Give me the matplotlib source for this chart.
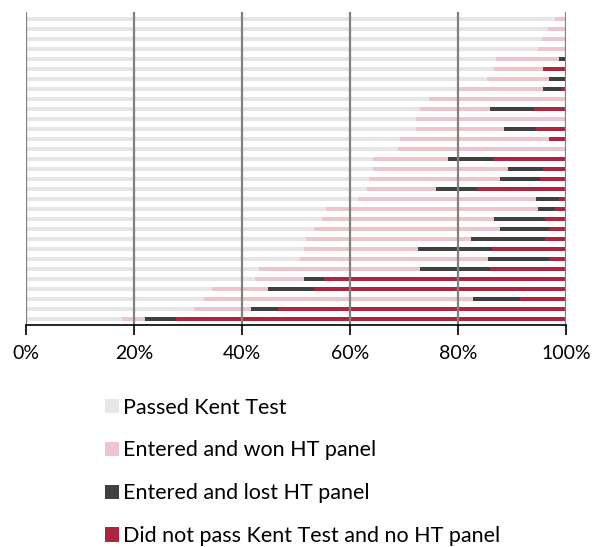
import matplotlib
matplotlib.use("Agg")
import matplotlib.pyplot as plt
from matplotlib.patches import Patch
import numpy as np

plt.rcParams['font.family'] = ['Lato', 'DejaVu Sans']

# cumulative boundaries (%) for each bar, top to bottom
passed = [98.0, 96.6, 95.5, 94.8, 87.1, 86.7, 85.3, 80.2, 74.7, 72.9, 72.2,
          72.2, 69.3, 68.9, 64.2, 64.2, 63.5, 63.2, 61.4, 55.5, 54.8,
          53.3, 51.9, 51.5, 50.8, 43.1, 42.4, 34.5, 32.9, 31.1, 17.8]
won_end = [100, 100, 100, 100, 98.7, 95.8, 96.9, 95.8, 100, 86.0, 100,
           88.5, 96.9, 100, 78.1, 89.3, 87.8, 75.9, 94.4, 94.8, 86.7,
           87.8, 82.4, 72.6, 85.6, 72.9, 51.5, 44.9, 82.8, 41.6, 22.0]
lost_end = [100, 100, 100, 100, 100, 95.8, 100, 99.1, 100, 94.0, 100,
            94.4, 96.9, 100, 86.7, 95.8, 95.1, 83.5, 98.7, 97.9, 96.1,
            96.9, 96.1, 86.3, 96.9, 86.0, 55.1, 53.3, 91.5, 46.7, 27.8]

labels = ["Passed Kent Test", "Entered and won HT panel",
          "Entered and lost HT panel", "Did not pass Kent Test and no HT panel"]
colors = ["#e6e6e6", "#ebc6cc", "#404040", "#ae2540"]

passed = np.array(passed)
won_end = np.array(won_end)
lost_end = np.array(lost_end)
won = won_end - passed
lost = lost_end - won_end
fail = 100 - lost_end

fig = plt.figure(figsize=(5.93, 5.47), dpi=100)
ax = fig.add_axes([26/593, 1-325/547, 540/593, 313/547])

n = len(passed)
y = np.arange(n)[::-1]
h = 0.42
ax.barh(y, passed, height=h, color=colors[0], zorder=1)
ax.barh(y, won, left=passed, height=h, color=colors[1], zorder=1)
ax.barh(y, lost, left=won_end, height=h, color=colors[2], zorder=1)
ax.barh(y, fail, left=lost_end, height=h, color=colors[3], zorder=1)

ax.set_xlim(0, 100)
ax.set_ylim(-0.6, n - 0.3)
ax.set_xticks([0, 20, 40, 60, 80, 100])
ax.set_xticklabels(["0%", "20%", "40%", "60%", "80%", "100%"], fontsize=14)
ax.set_yticks([])
for xv in [0, 20, 40, 60, 80, 100]:
    ax.axvline(xv, color="#808080", lw=1.6, zorder=2)
for s in ["top", "right", "left"]:
    ax.spines[s].set_visible(False)
ax.spines["bottom"].set_color("black")
ax.spines["bottom"].set_linewidth(1.2)
ax.tick_params(axis="x", direction="out", length=7.5, width=1.2, pad=7)

handles = [Patch(facecolor=c, edgecolor="none") for c in colors]
fig.legend(handles, labels, loc="upper left", bbox_to_anchor=(96/593, 1-389/547),
           frameon=False, fontsize=15.5, handlelength=0.66, handleheight=0.63,
           handletextpad=0.21, labelspacing=1.06, borderaxespad=0)

fig.savefig("out.png", dpi=100)
